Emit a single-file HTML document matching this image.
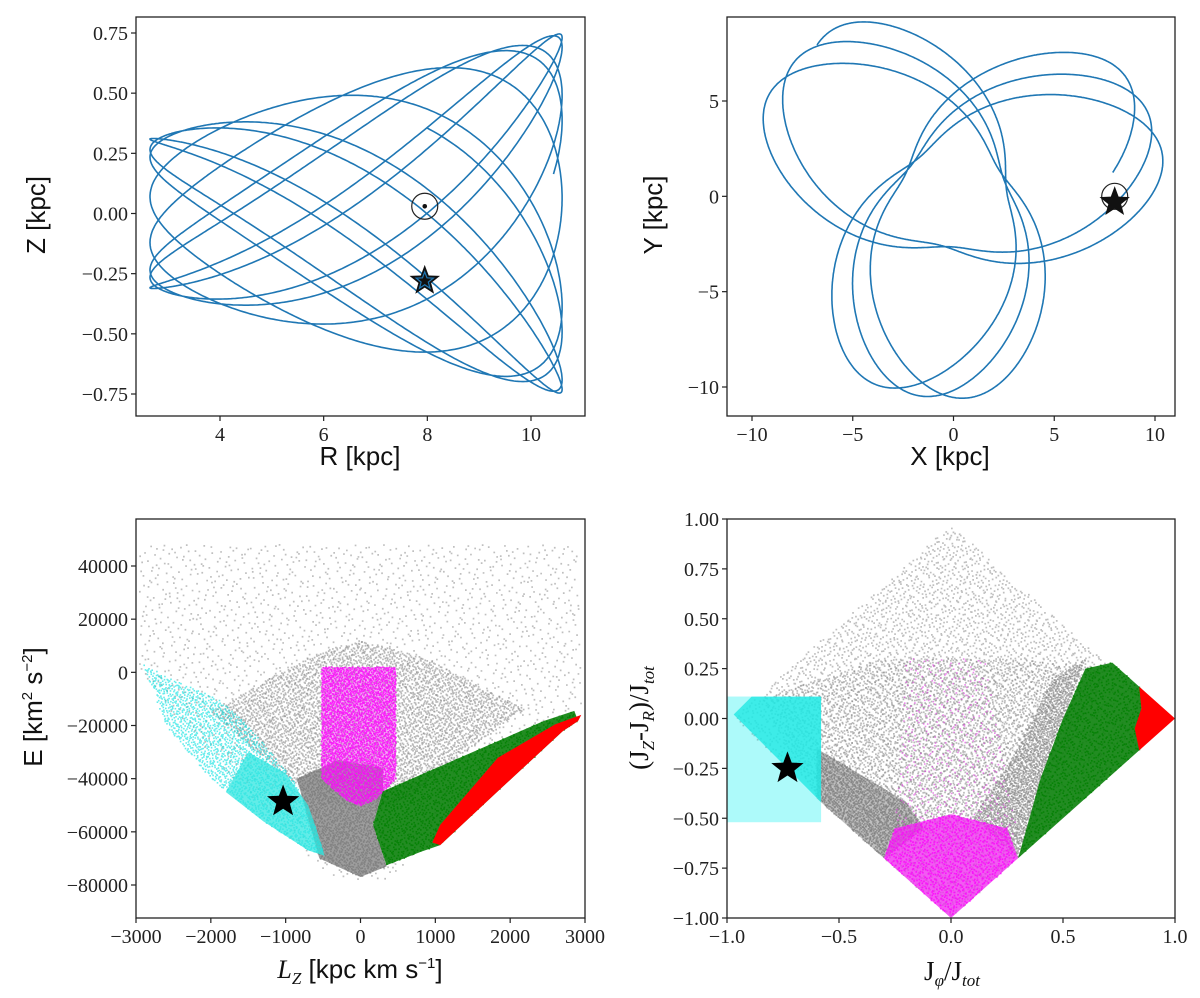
<!DOCTYPE html>
<html><head><meta charset="utf-8">
<style>
html,body{margin:0;padding:0;background:#fff;}
svg{display:block;}
.tk{font-family:"Liberation Serif",serif;font-size:20px;fill:#222;}
.lab{font-family:"Liberation Sans",sans-serif;font-size:26px;fill:#111;}
.labs{font-family:"Liberation Serif",serif;font-size:27px;fill:#111;}
</style></head>
<body>
<svg id="fig" width="1200" height="998" viewBox="0 0 1200 998" xmlns="http://www.w3.org/2000/svg"></svg>
<script>
// ---------- data ----------
const orbitPeri = [2.65];
const orbitApo = [10.6];
const orbitPeriods = [8.24];
const orbitApoAngleDeg = [37];
const orbitPhiPerPeriodDeg = [236];
const orbitPeriBoost = [0.33];
const orbitZRatio = [1.1];
const zAmpAtPeri = [0.31];
const zAmpAtApo = [0.75];
const sunRZ = [7.95, 0.03];
const starRZ = [7.95, -0.28];
const sunXY = [8.0, 0.0];
const starXY = [8.0, -0.3];
const p1XTicks = [4, 6, 8, 10];
const p1YTicks = [0.75, 0.5, 0.25, 0, -0.25, -0.5, -0.75];
const p1YLabels = ["0.75","0.50","0.25","0.00","−0.25","−0.50","−0.75"];
const p2XTicks = [-10, -5, 0, 5, 10];
const p2YTicks = [5, 0, -5, -10];
const p3XTicks = [-3000,-2000,-1000,0,1000,2000,3000];
const p3YTicks = [40000,20000,0,-20000,-40000,-60000,-80000];
const p3GreySparse = [[-2950,48000],[2900,48000],[2950,-12000],[2000,-28000],[1000,-55000],[500,-78000],[-300,-78000],[-700,-70000],[-2950,-2000]];
const p3GreyMed = [[-2000,-15000],[-1200,-2000],[-500,8000],[0,12000],[900,5000],[2200,-14000],[1500,-28000],[500,-50000],[-500,-50000],[-1300,-32000]];
const p3GreyDense = [[-850,-40000],[-300,-33000],[300,-36000],[300,-45000],[170,-57000],[350,-73000],[0,-77000],[-550,-70000],[-650,-60000]];
const p3Cyan = [[-2900,3000],[-2500,-3000],[-1900,-10000],[-1500,-20000],[-900,-40000],[-600,-58000],[-480,-69000],[-700,-67000],[-1300,-56000],[-2000,-40000],[-2600,-20000]];
const p3CyanDense = [[-1500,-30000],[-1000,-38000],[-700,-50000],[-600,-58000],[-480,-69000],[-700,-67000],[-1300,-56000],[-1800,-45000]];
const p3Magenta = [[-522,2000],[476,2000],[476,-40000],[200,-48000],[0,-50500],[-200,-48000],[-522,-40000]];
const p3Green = [[169,-57400],[297,-44800],[1321,-32200],[2448,-18300],[2857,-14500],[2908,-18300],[2704,-22100],[1833,-44800],[1065,-65000],[809,-67500],[348,-72600]];
const p3Red = [[1065,-57400],[1833,-32200],[2601,-19600],[2950,-16000],[2908,-18300],[2704,-22100],[1833,-44800],[1065,-65000],[960,-64000]];
const p3Star = [-1034, -48600];
const p4XTicks = [-1, -0.5, 0, 0.5, 1];
const p4XLabels = ["−1.0","−0.5","0.0","0.5","1.0"];
const p4YTicks = [1, 0.75, 0.5, 0.25, 0, -0.25, -0.5, -0.75, -1];
const p4YLabels = ["1.00","0.75","0.50","0.25","0.00","−0.25","−0.50","−0.75","−1.00"];
const p4Diamond = [[-0.97,0],[0,0.97],[0.97,0],[0,-0.97]];
const p4GreyLower = [[-0.85,0.1],[-0.3,0.3],[0.3,0.3],[0.7,0.25],[0.3,-0.7],[0,-1],[-0.6,-0.4]];
const p4GreyBand = [[-0.6,-0.4],[-0.6,-0.15],[-0.45,-0.25],[-0.2,-0.42],[-0.12,-0.55],[-0.3,-0.7]];
const p4GreyRight = [[0.1,-0.5],[0.3,-0.15],[0.45,0.2],[0.6,0.3],[0.5,0.0],[0.4,-0.3],[0.3,-0.7]];
const p4MagDense = [[-0.3,-0.7],[0,-1],[0.3,-0.7],[0.25,-0.55],[0,-0.48],[-0.25,-0.55]];
const p4MagSparse = [[-0.25,-0.55],[-0.2,0.3],[0.15,0.3],[0.3,-0.6]];
const p4CyanBox = [-1.0, -0.58, -0.52, 0.11];
const p4Cyan = [[-0.97,0.02],[-0.89,0.11],[-0.58,0.11],[-0.58,-0.42]];
const p4Green = [[0.3,-0.7],[0.4,-0.3],[0.5,0.0],[0.6,0.25],[0.72,0.28],[0.85,0.15],[0.85,-0.15]];
const p4Red = [[0.84,0.16],[1,0],[0.84,-0.16],[0.82,-0.05],[0.85,0.05]];
const p4Star = [-0.73, -0.25];

// ---------- helpers ----------
const NS = "http://www.w3.org/2000/svg";
const svg = document.getElementById('fig');
function mk(tag, attrs, parent){ const e=document.createElementNS(NS,tag); for(const k in attrs) e.setAttribute(k,attrs[k]); (parent||svg).appendChild(e); return e; }
function lin(d0,d1,p0,p1){ return v => p0 + (v-d0)/(d1-d0)*(p1-p0); }
function halton(i,b){ let f=1,r=0; while(i>0){ f/=b; r+=f*(i%b); i=Math.floor(i/b);} return r; }
function inPoly(x,y,poly){ let c=false; for(let i=0,j=poly.length-1;i<poly.length;j=i++){ const xi=poly[i][0],yi=poly[i][1],xj=poly[j][0],yj=poly[j][1]; if(((yi>y)!==(yj>y)) && (x < (xj-xi)*(y-yi)/(yj-yi)+xi)) c=!c; } return c; }
function starPath(cx,cy,R){ let d=''; for(let k=0;k<10;k++){ const r=k%2?R*0.42:R; const a=-Math.PI/2+k*Math.PI/5; d+=(k?'L':'M')+(cx+r*Math.cos(a)).toFixed(1)+' '+(cy+r*Math.sin(a)).toFixed(1);} return d+'Z'; }
function axesBox(g,x0,y0,x1,y1,name){
  const r=mk('rect',{x:x0,y:y0,width:x1-x0,height:y1-y0,fill:'none',stroke:'#222','stroke-width':1.3},g);
  
  
}
function xTicks(g,vals,labels,sx,yb,name){
  vals.forEach((v,i)=>{
    const x=sx(v);
    const t=mk('line',{x1:x,x2:x,y1:yb,y2:yb+5,stroke:'#222','stroke-width':1.2},g);
    
    
    const l=mk('text',{x:x,y:yb+25,'text-anchor':'middle',class:'tk'},g);
    l.textContent=labels[i];
    
    
  });
}
function yTicks(g,vals,labels,sy,xl,name){
  vals.forEach((v,i)=>{
    const y=sy(v);
    const t=mk('line',{x1:xl-5,x2:xl,y1:y,y2:y,stroke:'#222','stroke-width':1.2},g);
    
    
    const l=mk('text',{x:xl-8,y:y+7,'text-anchor':'end',class:'tk'},g);
    l.textContent=labels[i];
    
    
  });
}
function fmt(v){ return (v<0?'−':'')+Math.abs(v); }

// ---------- orbit ----------
const Rm=(orbitPeri[0]+orbitApo[0])/2, A=(orbitApo[0]-orbitPeri[0])/2;
const kRate = orbitPhiPerPeriodDeg[0]/360;
const th0 = Math.acos((Rm-8)/A);
const thEnd = th0 + orbitPeriods[0]*2*Math.PI;
const phiApo = orbitApoAngleDeg[0]*Math.PI/180;
const orbit=[]; { const N=4000; for(let k=0;k<=N;k++){ const th=th0+k/N*(thEnd-th0); const R=Rm-A*Math.cos(th);
  const phi = phiApo + kRate*(th-Math.PI) + orbitPeriBoost[0]*Math.sin(th);
  const zAmp = zAmpAtPeri[0]+(R-orbitPeri[0])/(orbitApo[0]-orbitPeri[0])*(zAmpAtApo[0]-zAmpAtPeri[0]);
  const Z = zAmp*Math.sin(orbitZRatio[0]*th + 0.4);
  orbit.push([R,Z,R*Math.cos(phi),R*Math.sin(phi)]); } }

// ---------- panel 1 ----------
{
  const g=mk('g',{});  
  const sx=lin(4,10,220,531), sy=lin(0.75,-0.75,33,394);
  const d=orbit.map((p,i)=>(i?'L':'M')+sx(p[0]).toFixed(1)+' '+sy(p[1]).toFixed(1)).join('');
  const pl=mk('path',{d:d,fill:'none',stroke:'#1f77b4','stroke-width':1.6},g);
   
  const sc=mk('circle',{cx:sx(sunRZ[0]),cy:sy(sunRZ[1]),r:13,fill:'none',stroke:'#222','stroke-width':1.2},g);
   
  const sd=mk('circle',{cx:sx(sunRZ[0]),cy:sy(sunRZ[1]),r:2.3,fill:'#111'},g);
   
  const st=mk('path',{d:starPath(sx(starRZ[0]),sy(starRZ[1]),16),fill:'#111'},g);
   
  const st2=mk('path',{d:starPath(sx(starRZ[0]),sy(starRZ[1]),9),fill:'none',stroke:'#1f77b4','stroke-width':1.2},g);
   
  axesBox(g,136,17,585,416,'panel-r-z');
  xTicks(g,p1XTicks,p1XTicks.map(fmt),sx,416,'panel-r-z');
  yTicks(g,p1YTicks,p1YLabels,sy,136,'panel-r-z');
  const xl=mk('text',{x:360,y:465,'text-anchor':'middle',class:'lab'},g); xl.textContent='R [kpc]';
   
  const yl=mk('text',{x:0,y:0,'text-anchor':'middle',class:'lab',transform:'translate(45,215) rotate(-90)'},g); yl.textContent='Z [kpc]';
   
}
// ---------- panel 2 ----------
{
  const g=mk('g',{});  
  const sx=lin(-10,10,752,1155), sy=lin(5,-10,101,387);
  const d=orbit.map((p,i)=>(i?'L':'M')+sx(p[2]).toFixed(1)+' '+sy(p[3]).toFixed(1)).join('');
  const pl=mk('path',{d:d,fill:'none',stroke:'#1f77b4','stroke-width':1.6},g);
   
  const sc=mk('circle',{cx:sx(sunXY[0]),cy:sy(sunXY[1]),r:13,fill:'none',stroke:'#222','stroke-width':1.2},g);
   
  const st=mk('path',{d:starPath(sx(starXY[0]),sy(starXY[1]),16),fill:'#111'},g);
   
  axesBox(g,727,17,1175,416,'panel-x-y');
  xTicks(g,p2XTicks,p2XTicks.map(fmt),sx,416,'panel-x-y');
  yTicks(g,p2YTicks,p2YTicks.map(fmt),sy,727,'panel-x-y');
  const xl=mk('text',{x:950,y:465,'text-anchor':'middle',class:'lab'},g); xl.textContent='X [kpc]';
   
  const yl=mk('text',{x:0,y:0,'text-anchor':'middle',class:'lab',transform:'translate(662,215) rotate(-90)'},g); yl.textContent='Y [kpc]';
   
}

let seedOff=1;
function scatter(g,poly,count,color,op,sx,sy,size,name){
  let xs=poly.map(p=>p[0]), ys=poly.map(p=>p[1]);
  const x0=Math.min(...xs),x1=Math.max(...xs),y0=Math.min(...ys),y1=Math.max(...ys);
  let d='', n=0, i=seedOff; seedOff+=7919;
  while(n<count && i<seedOff+count*40){ const x=x0+halton(i,2)*(x1-x0), y=y0+halton(i,3)*(y1-y0); i++;
    if(inPoly(x,y,poly)){ d+='M'+(sx(x)-size/2).toFixed(1)+' '+(sy(y)-size/2).toFixed(1)+'h'+size+'v'+size+'h-'+size+'z'; n++; } }
  const p=mk('path',{d:d,fill:color,'fill-opacity':op},g);
   
}
function fillPoly(g,poly,color,op,sx,sy,name){
  const p=mk('polygon',{points:poly.map(q=>sx(q[0]).toFixed(1)+','+sy(q[1]).toFixed(1)).join(' '),fill:color,'fill-opacity':op},g);
   
}
// ---------- panel 3 ----------
{
  const g=mk('g',{});  
  const sx=lin(-3000,3000,136,585), sy=lin(40000,-80000,566,885);
  scatter(g,p3GreySparse,2200,'#808080',0.5,sx,sy,1.7,'grey-sparse-points');
  scatter(g,p3GreyMed,4500,'#808080',0.55,sx,sy,1.7,'grey-mid-points');
  fillPoly(g,p3GreyDense,'#8c8c8c',0.85,sx,sy,'grey-dense-region');
  scatter(g,p3GreyDense,1500,'#777',0.7,sx,sy,1.6,'grey-dense-points');
  scatter(g,p3Cyan,1800,'#00e0e0',0.6,sx,sy,1.6,'cyan-points');
  fillPoly(g,p3CyanDense,'#2ee6e0',0.75,sx,sy,'cyan-dense-region');
  fillPoly(g,p3Magenta,'#f040f0',0.45,sx,sy,'magenta-region');
  scatter(g,p3Magenta,2500,'#ff00ff',0.8,sx,sy,1.6,'magenta-points');
  fillPoly(g,p3Green,'#0a800a',0.9,sx,sy,'green-region');
  scatter(g,p3Green,1200,'#008000',0.8,sx,sy,1.6,'green-points');
  fillPoly(g,p3Red,'#ff0000',1,sx,sy,'red-region');
  const st=mk('path',{d:starPath(sx(p3Star[0]),sy(p3Star[1]),17),fill:'#000'},g);
   
  axesBox(g,136,519,585,918,'panel-lz-e');
  xTicks(g,p3XTicks,p3XTicks.map(fmt),sx,918,'panel-lz-e');
  yTicks(g,p3YTicks,p3YTicks.map(fmt),sy,136,'panel-lz-e');
  const xl=mk('text',{x:360,y:978,'text-anchor':'middle',class:'lab'},g);
  xl.innerHTML='<tspan font-family="Liberation Serif" font-style="italic">L</tspan><tspan font-family="Liberation Serif" font-style="italic" font-size="17" dy="6">Z</tspan><tspan dy="-6"> [kpc km s</tspan><tspan font-size="15" dy="-10">−1</tspan><tspan dy="10">]</tspan>';
   
  const yl=mk('text',{x:0,y:0,'text-anchor':'middle',class:'lab',transform:'translate(42,707) rotate(-90)'},g);
  yl.innerHTML='E [km<tspan font-size="15" dy="-10">2</tspan><tspan dy="10"> s</tspan><tspan font-size="15" dy="-10">−2</tspan><tspan dy="10">]</tspan>';
   
}
// ---------- panel 4 ----------
{
  const g=mk('g',{});  
  const sx=lin(-1,1,727,1175), sy=lin(1,-1,519,918);
  scatter(g,p4Diamond,5000,'#808080',0.5,sx,sy,1.7,'grey-sparse-points');
  scatter(g,p4GreyLower,4000,'#808080',0.55,sx,sy,1.7,'grey-lower-points');
  fillPoly(g,p4GreyBand,'#8a8a8a',0.55,sx,sy,'grey-band-region');
  scatter(g,p4GreyBand,1200,'#777',0.7,sx,sy,1.6,'grey-band-points');
  scatter(g,p4GreyRight,1500,'#808080',0.65,sx,sy,1.6,'grey-right-points');
  scatter(g,p4MagSparse,500,'#e040e0',0.6,sx,sy,1.6,'magenta-sparse-points');
  fillPoly(g,p4MagDense,'#f030f0',0.8,sx,sy,'magenta-dense-region');
  scatter(g,p4MagDense,800,'#ff00ff',0.8,sx,sy,1.6,'magenta-dense-points');
  const bx=mk('rect',{x:sx(p4CyanBox[0]),y:sy(p4CyanBox[3]),width:sx(p4CyanBox[1])-sx(p4CyanBox[0]),height:sy(p4CyanBox[2])-sy(p4CyanBox[3]),fill:'#00f0f0','fill-opacity':0.32},g);
   
  fillPoly(g,p4Cyan,'#20e8e4',0.8,sx,sy,'cyan-region');
  fillPoly(g,p4Green,'#0a800a',0.9,sx,sy,'green-region');
  scatter(g,p4Green,900,'#008000',0.8,sx,sy,1.6,'green-points');
  fillPoly(g,p4Red,'#ff0000',1,sx,sy,'red-region');
  const st=mk('path',{d:starPath(sx(p4Star[0]),sy(p4Star[1]),17),fill:'#000'},g);
   
  axesBox(g,727,519,1175,918,'panel-actions');
  xTicks(g,p4XTicks,p4XLabels,sx,918,'panel-actions');
  yTicks(g,p4YTicks,p4YLabels,sy,727,'panel-actions');
  const xl=mk('text',{x:952,y:980,'text-anchor':'middle',class:'labs'},g);
  xl.innerHTML='J<tspan font-style="italic" font-size="17" dy="6">φ</tspan><tspan dy="-6">/J</tspan><tspan font-style="italic" font-size="17" dy="6">tot</tspan>';
   
  const yl=mk('text',{x:0,y:0,'text-anchor':'middle',class:'labs',transform:'translate(648,718) rotate(-90)'},g);
  yl.innerHTML='(J<tspan font-style="italic" font-size="17" dy="6">Z</tspan><tspan dy="-6">-J</tspan><tspan font-style="italic" font-size="17" dy="6">R</tspan><tspan dy="-6">)/J</tspan><tspan font-style="italic" font-size="17" dy="6">tot</tspan>';
   
}
</script>
</body></html>
